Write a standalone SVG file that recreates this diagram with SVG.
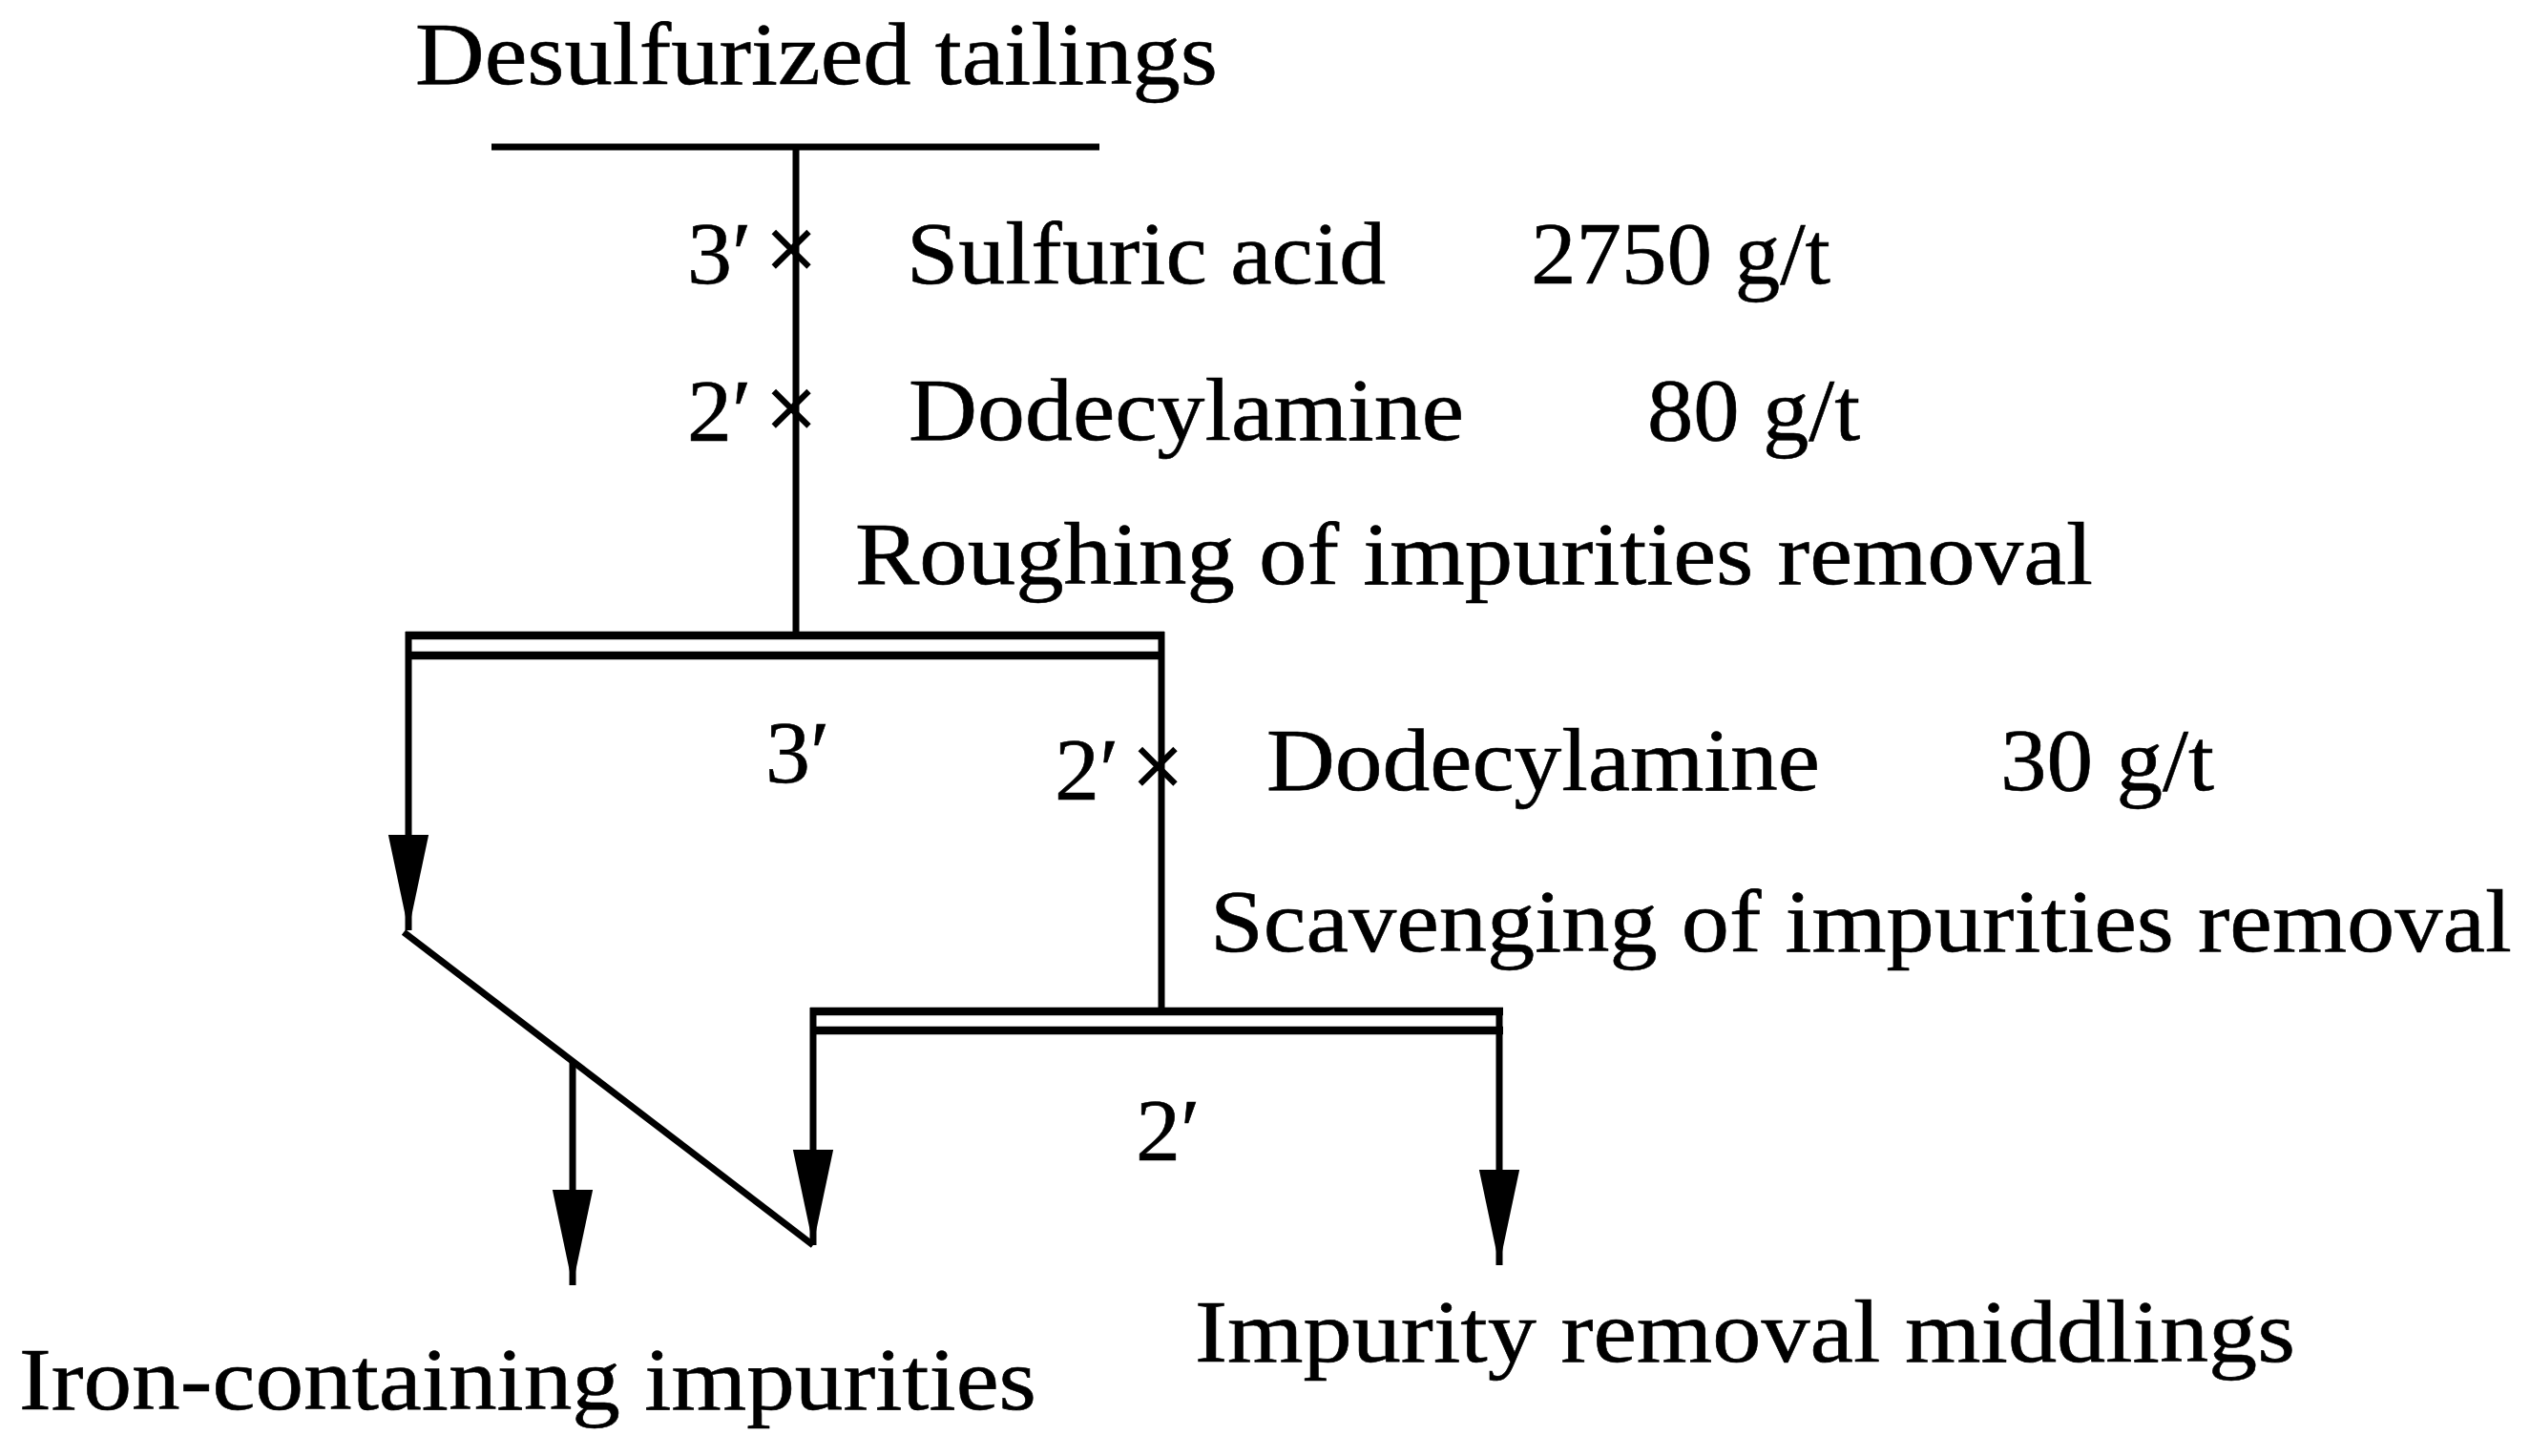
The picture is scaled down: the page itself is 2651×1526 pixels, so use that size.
<svg xmlns="http://www.w3.org/2000/svg" width="2651" height="1526" viewBox="0 0 2651 1526">
<style>
  text { font-family: "Liberation Serif", "Times New Roman", serif; fill: #000; stroke: #000; stroke-width: 0.6; }
  .t { font-size: 94px; }
  .x { font-size: 96px; text-anchor: middle; stroke-width: 1.5; }
  .ln { stroke: #000; stroke-width: 7; fill: none; }
  .bar { stroke: #000; stroke-width: 8.5; fill: none; }
</style>
<defs>
  <marker id="arr" markerUnits="userSpaceOnUse" markerWidth="100" markerHeight="44" viewBox="0 0 97 41" refX="97" refY="20.5" orient="auto">
    <path d="M0,0 L97,20.5 L0,41 Z" fill="#000"/>
  </marker>
</defs>
<rect width="2651" height="1526" fill="#fff"/>

<g id="feed">
  <text class="t" x="435" y="88" textLength="841" lengthAdjust="spacingAndGlyphs">Desulfurized tailings</text>
  <line class="ln" x1="515" y1="154" x2="1152" y2="154"/>
</g>

<g id="reagents-roughing">
  <text class="t" x="720" y="297">3′</text>
  <text class="x" x="829" y="293">×</text>
  <text class="t" x="950" y="297" textLength="502" lengthAdjust="spacingAndGlyphs">Sulfuric acid</text>
  <text class="t" x="1604" y="297" textLength="314" lengthAdjust="spacingAndGlyphs">2750 g/t</text>
  <text class="t" x="720" y="462">2′</text>
  <text class="x" x="829" y="460">×</text>
  <text class="t" x="952" y="461" textLength="582" lengthAdjust="spacingAndGlyphs">Dodecylamine</text>
  <text class="t" x="1726" y="461" textLength="223" lengthAdjust="spacingAndGlyphs">80 g/t</text>
</g>

<g id="roughing">
  <text class="t" x="896" y="612" textLength="1297" lengthAdjust="spacingAndGlyphs">Roughing of impurities removal</text>
  <line class="bar" x1="425" y1="666" x2="1220" y2="666"/>
  <line class="bar" x1="425" y1="687" x2="1220" y2="687" stroke-width="9"/>
  <text class="t" x="802" y="820">3′</text>
</g>

<g id="reagents-scavenging">
  <text class="t" x="1105" y="838">2′</text>
  <text class="x" x="1213" y="835">×</text>
  <text class="t" x="1327" y="828" textLength="580" lengthAdjust="spacingAndGlyphs">Dodecylamine</text>
  <text class="t" x="2096" y="828" textLength="224" lengthAdjust="spacingAndGlyphs">30 g/t</text>
</g>

<g id="scavenging">
  <text class="t" x="1268" y="997" textLength="1364" lengthAdjust="spacingAndGlyphs">Scavenging of impurities removal</text>
  <line class="bar" x1="849" y1="1060" x2="1575" y2="1060"/>
  <line class="bar" x1="849" y1="1080" x2="1575" y2="1080"/>
  <text class="t" x="1190" y="1216">2′</text>
</g>

<g id="iron-impurities">
  <text class="t" x="20" y="1477" textLength="1066" lengthAdjust="spacingAndGlyphs">Iron-containing impurities</text>
</g>

<g id="middlings">
  <text class="t" x="1252" y="1427" textLength="1153" lengthAdjust="spacingAndGlyphs">Impurity removal middlings</text>
</g>

<g id="connectors">
  <line class="ln" x1="834" y1="154" x2="834" y2="663"/>
  <line class="ln" x1="428" y1="662" x2="428" y2="975" marker-end="url(#arr)"/>
  <line class="ln" x1="1217" y1="662" x2="1217" y2="1057"/>
  <line class="ln" x1="852" y1="1056" x2="852" y2="1305" marker-end="url(#arr)"/>
  <line class="ln" x1="1571" y1="1056" x2="1571" y2="1326" marker-end="url(#arr)"/>
  <line class="ln" x1="423" y1="977" x2="852" y2="1305"/>
  <line class="ln" x1="600" y1="1112" x2="600" y2="1347" marker-end="url(#arr)"/>
</g>
</svg>
